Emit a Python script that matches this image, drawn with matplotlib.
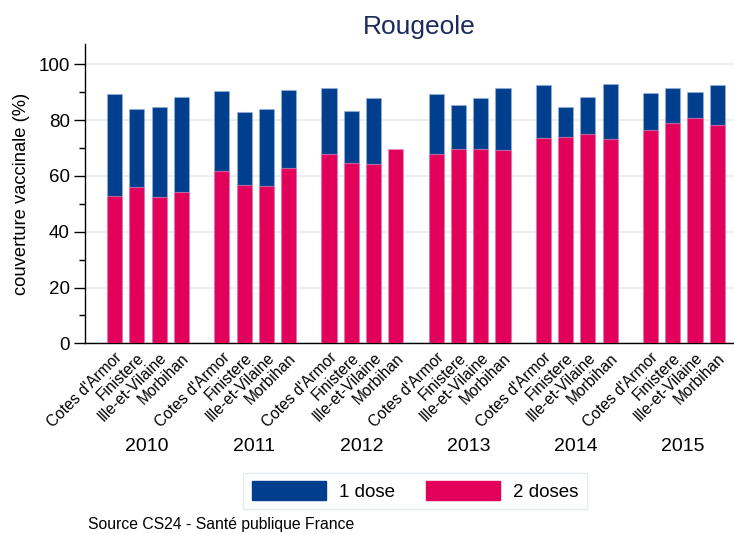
import numpy as np
import matplotlib
matplotlib.use("Agg")
import matplotlib.pyplot as plt
import matplotlib.transforms as mtransforms
from matplotlib.patches import Patch
from matplotlib.ticker import MultipleLocator

plt.rcParams['font.family'] = ['Liberation Sans', 'DejaVu Sans']

years = ['2010', '2011', '2012', '2013', '2014', '2015']
departments = ["Cotes d'Armor", "Finistere", "Ille-et-Vilaine", "Morbihan"]

# 1 dose coverage (%) per year, per department
dose1 = {
    '2010': [89.2, 84.0, 84.8, 88.3],
    '2011': [90.5, 82.9, 83.9, 90.7],
    '2012': [91.4, 83.4, 87.8, np.nan],
    '2013': [89.4, 85.4, 88.0, 91.5],
    '2014': [92.6, 84.8, 88.4, 92.8],
    '2015': [89.7, 91.5, 90.0, 92.6],
}
# 2 doses coverage (%)
dose2 = {
    '2010': [52.9, 56.0, 52.4, 54.1],
    '2011': [61.8, 56.9, 56.3, 62.7],
    '2012': [68.0, 64.6, 64.3, 69.5],
    '2013': [68.0, 69.5, 69.5, 69.4],
    '2014': [73.7, 74.1, 74.9, 73.3],
    '2015': [76.3, 78.9, 80.9, 78.2],
}

blue = '#003f8e'
pink = '#e2005a'

fig = plt.figure(figsize=(7.34, 5.34), dpi=100)
ax = fig.add_axes([85/734, 1-343.3/534, 1-85/734, (343.3-44)/534])

group_step = 4.81
width = 0.68
xs, labels = [], []
for j, y in enumerate(years):
    pos = j*group_step + np.arange(len(departments))
    ax.bar(pos, dose1[y], width=width, color=blue, edgecolor=(0.6, 0.7, 0.85, 0.6), linewidth=0.8, zorder=3)
    ax.bar(pos, dose2[y], width=width, color=pink, edgecolor=(0.9, 0.6, 0.75, 0.6), linewidth=0.8, zorder=4)
    xs.extend(pos)
    labels.extend(departments)

ax.set_xlim(-1.33, 27.8)
ax.set_ylim(0, 107.3)
ax.yaxis.set_major_locator(MultipleLocator(20))
ax.yaxis.set_minor_locator(MultipleLocator(10))
ax.grid(axis='y', color='#eaf0f4', linewidth=1.5, zorder=0)
ax.set_axisbelow(True)
for s in ['top', 'right']:
    ax.spines[s].set_visible(False)
ax.spines['left'].set_linewidth(1.0)
ax.spines['bottom'].set_linewidth(1.0)
ax.tick_params(axis='y', which='major', length=8, width=1.0, labelsize=13.5, pad=3)
ax.tick_params(axis='y', which='minor', length=4, width=1.0)
ax.set_xticks(xs)
ax.set_xticklabels(labels, rotation=45, ha='right', va='top', rotation_mode='anchor', fontsize=11.2)
ax.tick_params(axis='x', length=0, pad=5)
ax.set_ylabel('couverture vaccinale (%)', fontsize=13.2, labelpad=6)

trans = mtransforms.blended_transform_factory(ax.transData, ax.transAxes)
for j, y in enumerate(years):
    ax.text(j*group_step + 1.45, -0.346, y, transform=trans, ha='center', va='center', fontsize=14)

fig.text(419/734, 1-27/534, 'Rougeole', ha='center', va='center', fontsize=19, color='#1c2b5c')

handles = [Patch(facecolor=blue, edgecolor=blue), Patch(facecolor=pink, edgecolor=pink)]
leg = fig.legend(handles, ['1 dose', '2 doses'], loc='center', bbox_to_anchor=(415/734, 1-491/534),
                 ncol=2, fontsize=13.5, frameon=True, fancybox=False, handlelength=3.95, handleheight=1.12,
                 handletextpad=0.7, columnspacing=1.65, borderpad=0.45)
leg.get_frame().set_edgecolor('#dde6ec')
leg.get_frame().set_linewidth(1.0)

fig.text(88/734, 1-524/534, 'Source CS24 - Santé publique France', ha='left', va='center', fontsize=11.3)

fig.savefig('out.png', dpi=100)
